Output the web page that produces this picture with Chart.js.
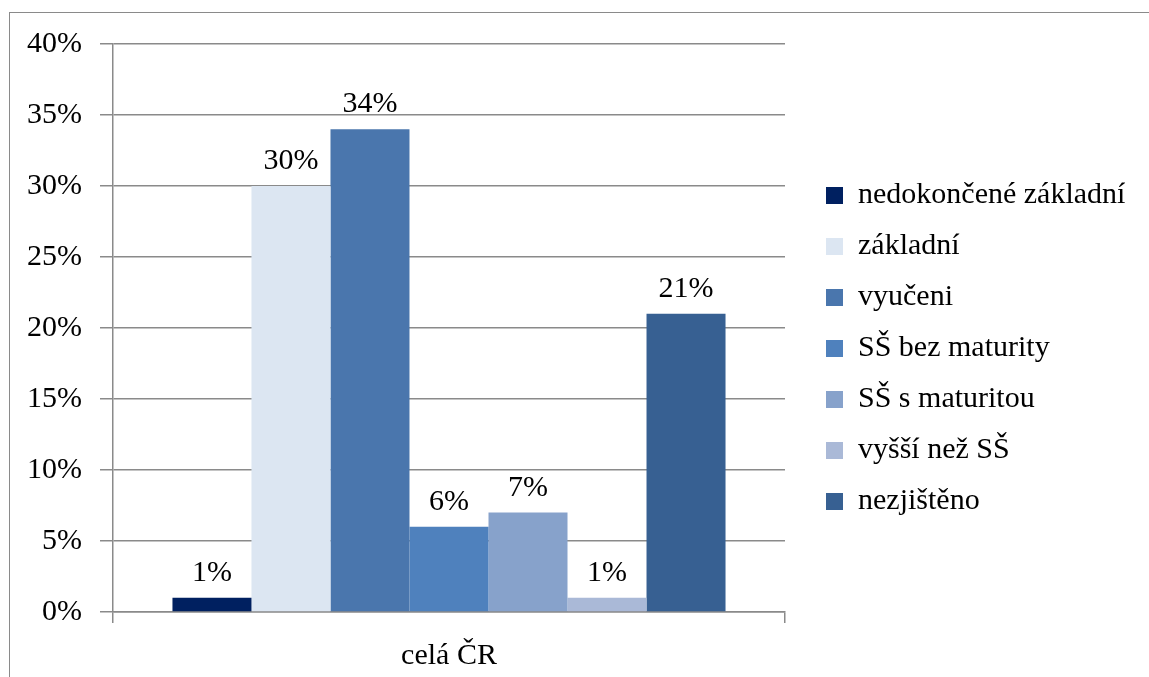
<!DOCTYPE html>
<html>
<head>
  <meta charset="UTF-8">
  <title>celá ČR</title>
  <style>
    body {
      margin: 0;
      background-color: #fff;
      overflow: hidden;
    }
    canvas {
      display: block;
    }
  </style>
</head>
<body>
  <canvas id="grafica" width="1149" height="677"></canvas>

  <script src="https://cdn.jsdelivr.net/npm/chart.js"></script>
  <script>
    // data
    var kategorie = ['celá ČR'];
    var skupiny = ['nedokončené základní', 'základní', 'vyučeni', 'SŠ bez maturity',
                   'SŠ s maturitou', 'vyšší než SŠ', 'nezjištěno'];
    var hodnoty = [1, 30, 34, 6, 7, 1, 21];
    var barvy = ['#002060', '#DCE6F2', '#4A76AD', '#4F81BD', '#87A2CB', '#AAB9D7', '#376092'];
    var osaY = { min: 0, max: 40, krok: 5 };

    var pismo = { family: "'Liberation Serif', 'Times New Roman', serif", size: 30 };
    var seda = '#8a8a8a';

    // ramecek kolem celeho grafu
    var ramecek = {
      id: 'ramecek',
      beforeDraw: function (chart) {
        var ctx = chart.ctx;
        ctx.save();
        ctx.strokeStyle = seda;
        ctx.lineWidth = 1;
        ctx.strokeRect(9.5, 12.5, 1200, 700);
        ctx.restore();
      }
    };

    // popisky hodnot nad sloupci
    var popisky = {
      id: 'popisky',
      afterDatasetsDraw: function (chart) {
        var ctx = chart.ctx;
        ctx.save();
        ctx.font = pismo.size + 'px ' + pismo.family;
        ctx.fillStyle = '#000';
        ctx.textAlign = 'center';
        ctx.textBaseline = 'alphabetic';
        chart.data.datasets.forEach(function (ds, i) {
          chart.getDatasetMeta(i).data.forEach(function (bar, j) {
            ctx.fillText(ds.data[j] + '%', bar.x, bar.y - 17);
          });
        });
        ctx.restore();
      }
    };

    // legenda: pevna sirka a odsazeni od plochy grafu
    var legendaPosun = {
      id: 'legendaPosun',
      beforeLayout: function (chart) {
        var lg = chart.legend;
        if (lg && !lg._upraveno) {
          var puvodni = lg.fit.bind(lg);
          lg.fit = function () {
            puvodni();
            this.width = 364;
          };
          lg._upraveno = true;
        }
      },
      afterLayout: function (chart) {
        var lg = chart.legend;
        if (lg) {
          lg.left += 20;
          lg.right += 20;
          lg.top -= 18;
          lg.bottom -= 18;
        }
      }
    };

    var datasety = skupiny.map(function (nazev, i) {
      return {
        label: nazev,
        data: [hodnoty[i]],
        backgroundColor: barvy[i],
        borderWidth: 0
      };
    });

    var myChart = new Chart(document.getElementById('grafica').getContext('2d'), {
      type: 'bar',
      data: {
        labels: kategorie,
        datasets: datasety
      },
      options: {
        responsive: false,
        animation: false,
        devicePixelRatio: 1,
        datasets: {
          bar: {
            categoryPercentage: 0.823,
            barPercentage: 1
          }
        },
        layout: {
          padding: { top: 44, left: 9, right: 0, bottom: -12 }
        },
        plugins: {
          tooltip: { enabled: false },
          legend: {
            position: 'right',
            labels: {
              boxWidth: 17,
              boxHeight: 17,
              padding: 21,
              color: '#000',
              font: pismo
            }
          }
        },
        scales: {
          x: {
            offset: true,
            grid: {
              offset: true,
              drawOnChartArea: false,
              drawTicks: true,
              tickLength: 11,
              color: seda,
              lineWidth: 1.5
            },
            border: { color: seda, width: 1.5 },
            ticks: {
              color: '#000',
              font: pismo,
              padding: 15
            }
          },
          y: {
            min: osaY.min,
            max: osaY.max,
            grid: {
              color: seda,
              lineWidth: 1.5,
              tickLength: 13
            },
            border: { color: seda, width: 1.5 },
            ticks: {
              stepSize: osaY.krok,
              color: '#000',
              font: pismo,
              padding: 18,
              callback: function (v) { return v + '%'; }
            }
          }
        }
      },
      plugins: [ramecek, popisky, legendaPosun]
    });
  </script>
</body>
</html>
